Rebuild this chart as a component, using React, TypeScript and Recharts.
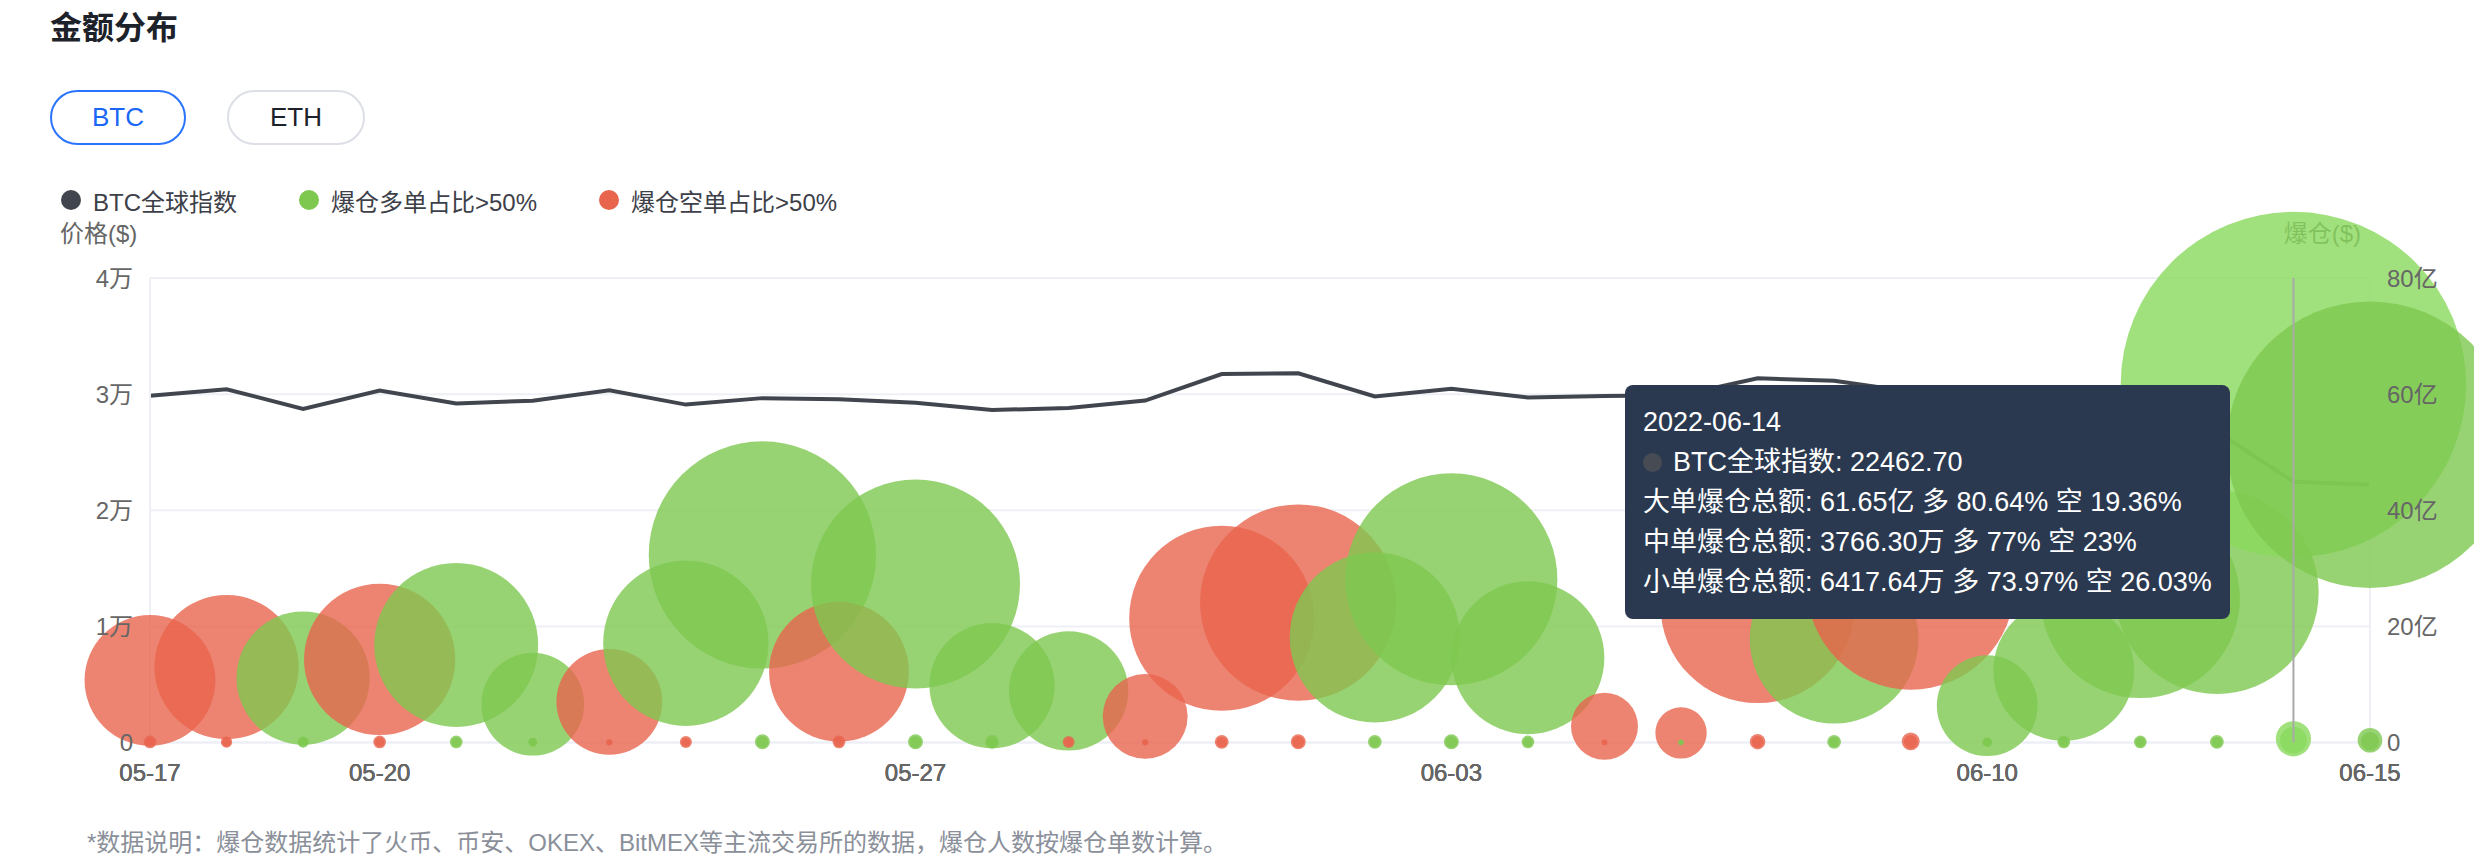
import { CartesianGrid, ComposedChart, Line, Scatter, Tooltip, XAxis, YAxis, ZAxis } from "recharts";

const FONT = '"Liberation Sans", "Noto Sans CJK SC", sans-serif';

const dates = [
  "2022-05-17", "2022-05-18", "2022-05-19", "2022-05-20", "2022-05-21", "2022-05-22",
  "2022-05-23", "2022-05-24", "2022-05-25", "2022-05-26", "2022-05-27", "2022-05-28",
  "2022-05-29", "2022-05-30", "2022-05-31", "2022-06-01", "2022-06-02", "2022-06-03",
  "2022-06-04", "2022-06-05", "2022-06-06", "2022-06-07", "2022-06-08", "2022-06-09",
  "2022-06-10", "2022-06-11", "2022-06-12", "2022-06-13", "2022-06-14", "2022-06-15"
];
const labelDates = ["2022-05-17", "2022-05-20", "2022-05-27", "2022-06-03", "2022-06-10", "2022-06-15"];

// BTC全球指数 ($)
const prices = [
  29860, 30425, 28720, 30314, 29200, 29432, 30323, 29098, 29655, 29562, 29267, 28627,
  28814, 29445, 31726, 31792, 29799, 30467, 29704, 29833, 29906, 31370, 31155, 30214,
  30112, 29083, 28360, 26762, 22462.7, 22206
];

// 爆仓总额 (亿), L = 多单占比>50%, S = 空单占比>50%
const largeAmt = [
  10.7, 13.0, 11.1, 14.3, 16.8, 6.6, 7.0, 17.1, 32.3, 12.2, 27.3, 9.8,
  8.9, 4.5, 21.4, 24.1, 18.1, 28.1, 14.6, 2.8, 1.65, 23.5, 17.8, 27.0,
  6.35, 12.4, 24.8, 25.9, 61.65, 51.3
];
const largeSide = [
  "S", "S", "L", "S", "L", "L", "S", "L", "L", "S", "L", "L",
  "L", "S", "S", "S", "L", "L", "L", "S", "S", "S", "L", "S",
  "L", "L", "L", "L", "L", "L"
];
const mediumAmt = [
  0.06, 0.05, 0.05, 0.06, 0.06, 0.04, 0.015, 0.05, 0.09, 0.06, 0.09, 0.07,
  0.05, 0.015, 0.07, 0.09, 0.07, 0.09, 0.06, 0.012, 0.012, 0.09, 0.07, 0.12,
  0.04, 0.06, 0.06, 0.07, 0.37663, 0.21
];
const smallAmt = [
  0.1, 0.08, 0.08, 0.1, 0.1, 0.05, 0.025, 0.09, 0.14, 0.1, 0.14, 0.12,
  0.09, 0.025, 0.12, 0.14, 0.12, 0.14, 0.1, 0.02, 0.02, 0.15, 0.12, 0.2,
  0.06, 0.1, 0.1, 0.12, 0.641764, 0.38
];
const smallSide = [
  "S", "S", "L", "S", "L", "L", "S", "S", "L", "S", "L", "L",
  "S", "S", "S", "S", "L", "L", "L", "S", "L", "S", "L", "S",
  "L", "L", "L", "L", "L", "L"
];

// 多单占比 (%) of 大单 / 中单 / 小单
const longShare: Record<string, number[]> = {
  "2022-06-14": [80.64, 77, 73.97]
};
const tierNames = ["大单爆仓总额", "中单爆仓总额", "小单爆仓总额"];

const coins = ["BTC", "ETH"];
const legendLabels = ["BTC全球指数", "爆仓多单占比>50%", "爆仓空单占比>50%"];
const legendColors = ["#41464e", "#7ec850", "#e8644d"];
const footnote = "*数据说明：爆仓数据统计了火币、币安、OKEX、BitMEX等主流交易所的数据，爆仓人数按爆仓单数计算。";

const highlightDate = "2022-06-14";

const rows = dates.map((date, i) => ({ date, price: prices[i] }));
const bubbles = dates.flatMap((date, i) => [
  { date, amount: largeAmt[i], side: largeSide[i] },
  { date, amount: mediumAmt[i], side: smallSide[i] },
  { date, amount: smallAmt[i], side: smallSide[i] }
]);

const fmtAmt = (v: number) => (v >= 1 ? `${v.toFixed(2)}亿` : `${(v * 10000).toFixed(2)}万`);
const fmtPct = (v: number) => `${Number(v.toFixed(2))}%`;

function Bubble(props: any) {
  const { cx, cy, width, payload } = props;
  if (cx == null || cy == null) return null;
  const hot = payload.date === highlightDate;
  const r = (width / 2) * (hot ? 1.1 : 1);
  const fill = payload.side === "L" ? (hot ? "#89d95c" : "#7ec850") : "#e8644d";
  return <circle cx={cx} cy={cy} r={r} fill={fill} fillOpacity={0.8} />;
}

function TipBox({ label }: any) {
  const i = dates.indexOf(label);
  if (i < 0) return null;
  const share = longShare[label];
  const amts = [largeAmt[i], mediumAmt[i], smallAmt[i]];
  return (
    <div
      style={{
        background: "#2a3950",
        borderRadius: 8,
        padding: "17px 18px",
        color: "#fff",
        fontSize: 27,
        lineHeight: "40px",
        whiteSpace: "nowrap",
        fontFamily: FONT
      }}
    >
      <div>{label}</div>
      <div style={{ display: "flex", alignItems: "center" }}>
        <span style={{ width: 19, height: 19, borderRadius: 10, background: "#474c54", marginRight: 11, display: "inline-block" }} />
        BTC全球指数: {prices[i].toFixed(2)}
      </div>
      {tierNames.map((name, k) => (
        <div key={name}>
          {name}: {fmtAmt(amts[k])}
          {share ? ` 多 ${fmtPct(share[k])} 空 ${fmtPct(100 - share[k])}` : ""}
        </div>
      ))}
    </div>
  );
}

const tick = { fontSize: 24, fill: "#666", fontFamily: FONT };

export default function App() {
  return (
    <div
      style={{
        position: "absolute",
        left: 0,
        top: 0,
        width: 2474,
        height: 868,
        background: "#fff",
        overflow: "hidden",
        fontFamily: FONT
      }}
    >
      <div style={{ position: "absolute", left: 50, top: 12, fontSize: 32, lineHeight: "32px", fontWeight: 700, color: "#1d2129" }}>
        金额分布
      </div>

      {coins.map((c, i) => (
        <div
          key={c}
          style={{
            position: "absolute",
            left: i === 0 ? 50 : 227,
            top: 90,
            width: i === 0 ? 136 : 138,
            height: 55,
            boxSizing: "border-box",
            border: i === 0 ? "2px solid #2a74ff" : "2px solid #dcdfe6",
            borderRadius: 28,
            display: "flex",
            alignItems: "center",
            justifyContent: "center",
            fontSize: 26,
            color: i === 0 ? "#1a66f5" : "#1d2129"
          }}
        >
          {c}
        </div>
      ))}

      <div style={{ position: "absolute", left: 61, top: 186, height: 28, display: "flex", alignItems: "center", gap: 62 }}>
        {legendLabels.map((name, i) => (
          <div key={name} style={{ display: "flex", alignItems: "center", fontSize: 24, color: "#3d4048" }}>
            <span style={{ width: 20, height: 20, borderRadius: 10, background: legendColors[i], marginRight: 12, display: "inline-block" }} />
            {name}
          </div>
        ))}
      </div>

      <div style={{ position: "absolute", left: 60, top: 220, fontSize: 24, lineHeight: "28px", color: "#666" }}>价格($)</div>
      <div style={{ position: "absolute", right: 2474 - 2361, top: 220, fontSize: 24, lineHeight: "28px", color: "#666" }}>爆仓($)</div>

      <div style={{ position: "absolute", left: 0, top: 160 }}>
        <ComposedChart width={2474} height={660} data={rows} margin={{ top: 118, right: 14, bottom: 37.5, left: 90 }}>
          <CartesianGrid vertical={false} yAxisId="price" stroke="#eef0f5" strokeWidth={2} />
          <XAxis
            dataKey="date"
            type="category"
            scale="point"
            padding={{ left: 0, right: 0 }}
            allowDuplicatedCategory={false}
            interval={0}
            height={40}
            tickLine={false}
            tickSize={0}
            tickMargin={21}
            axisLine={{ stroke: "#eef0f5", strokeWidth: 2 }}
            tick={tick}
            tickFormatter={(d: string) => (labelDates.includes(d) ? d.slice(5) : "")}
          />
          <YAxis
            yAxisId="price"
            orientation="left"
            width={60}
            domain={[0, 40000]}
            ticks={[0, 10000, 20000, 30000, 40000]}
            tickLine={false}
            tickSize={0}
            tickMargin={17}
            axisLine={{ stroke: "#eef0f5", strokeWidth: 2 }}
            tick={tick}
            tickFormatter={(v: number) => (v === 0 ? "0" : `${v / 10000}万`)}
          />
          <YAxis
            yAxisId="amount"
            orientation="right"
            width={90}
            domain={[0, 80]}
            ticks={[0, 20, 40, 60, 80]}
            tickLine={false}
            tickSize={0}
            tickMargin={17}
            axisLine={{ stroke: "#eef0f5", strokeWidth: 2 }}
            tick={tick}
            tickFormatter={(v: number) => (v === 0 ? "0" : `${v}亿`)}
          />
          <ZAxis dataKey="amount" domain={[0, 80]} range={[0, 100531]} />
          <Line
            yAxisId="price"
            dataKey="price"
            type="linear"
            stroke="#41464e"
            strokeWidth={4}
            dot={false}
            activeDot={false}
            isAnimationActive={false}
          />
          <Scatter yAxisId="amount" data={bubbles} dataKey="amount" shape={<Bubble />} isAnimationActive={false} />
          <Tooltip
            defaultIndex={dates.indexOf(highlightDate)}
            position={{ x: 1625, y: 225 }}
            cursor={{ stroke: "#a9a9a9", strokeWidth: 2 }}
            isAnimationActive={false}
            content={<TipBox />}
            wrapperStyle={{ zIndex: 5 }}
          />
        </ComposedChart>
      </div>

      <div style={{ position: "absolute", left: 87, top: 829, fontSize: 24, lineHeight: "28px", color: "#8a8f99", whiteSpace: "nowrap" }}>
        {footnote}
      </div>
    </div>
  );
}
